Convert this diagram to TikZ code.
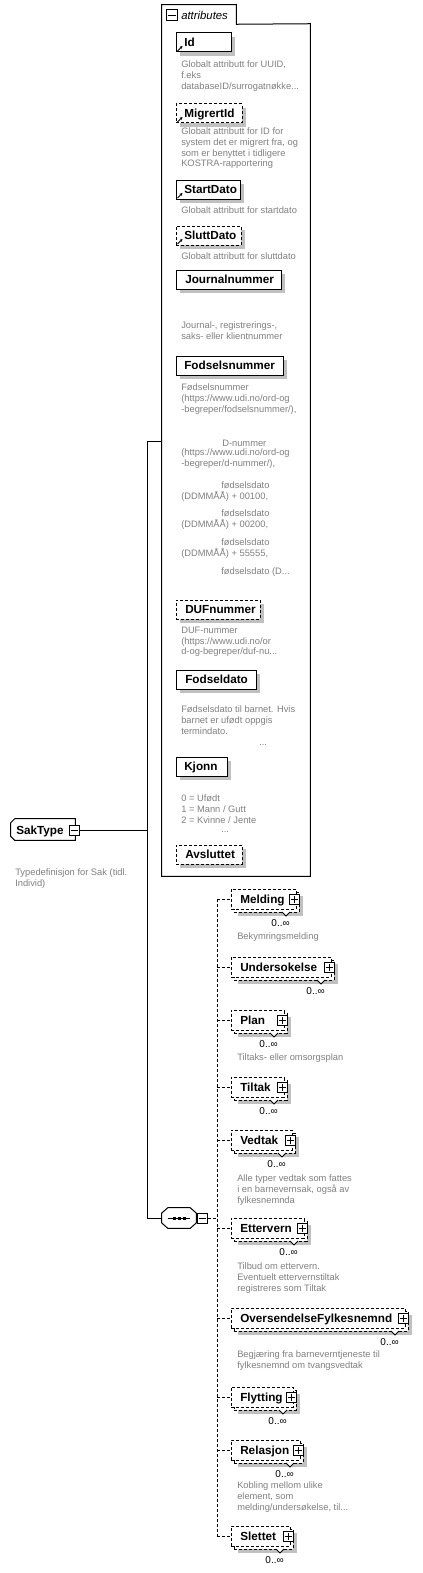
\documentclass[tikz,border=0pt]{standalone}
\usepackage{fontspec}
\setmainfont{Liberation Sans}
\usetikzlibrary{fit,shadows,arrows.meta}
\definecolor{shc}{RGB}{192,192,192}
\definecolor{dsc}{RGB}{128,128,128}
\tikzset{
  lw/.style={line width=0.75pt},
  shd/.style={drop shadow={shadow xshift=3pt,shadow yshift=-3pt,opacity=1,fill=shc}},
  abox/.style={inner sep=0pt, draw, lw, fill=white},
  ghost/.style={inner sep=0pt},
  dsh/.style={dash pattern=on 2.25pt off 1.5pt},
  lbl/.style={font=\fontsize{8.8}{10}\selectfont\bfseries, inner sep=0pt, anchor=west, text height=6.3pt, text depth=0pt},
  desc/.style={font=\fontsize{7}{8}\selectfont, text=dsc, inner sep=0pt, anchor=north west, align=left, yshift=5.3pt, execute at begin node={\rule{0pt}{5.3pt}}},
  occ/.style={font=\fontsize{7.5}{8}\selectfont, inner sep=0pt, anchor=base east},
  pbox/.style={inner sep=0pt, draw, lw, fill=white},
  refarrow/.style={lw, -{Stealth[length=2.2pt,width=2.2pt]}},
}
\newcommand{\kid}[4]{%
  \node[abox, dsh, shd, fit={(234,#2+3) (#3+3,#2+23)}] (#1b) {};
  \draw[lw, fill=white] (#3-14,#2+23) -- (#3-10,#2+27) -- (#3-6,#2+23);
  \node[abox, dsh, fit={(231,#2) (#3,#2+20)}] (#1) {};
  \node[pbox, fit={(#3-7,#2+5) (#3+3,#2+15)}] (#1p) {};
  \draw[lw] ([xshift=1.5pt]#1p.west) -- ([xshift=-1.5pt]#1p.east);
  \draw[lw] ([yshift=1.5pt]#1p.south) -- ([yshift=-1.5pt]#1p.north);
  \node[lbl] (#1l) at (240,#2+10) {#4};
  \node[occ] (#1o) at (#3-6,#2+37) {0..∞};
  \draw[lw,dsh] (#1.west -| cspine) -- (#1.west);
}
\begin{document}
\begin{tikzpicture}[x=0.75pt,y=-0.75pt]
\fill[white] (0,0) rectangle (422,1573);
\useasboundingbox (0,0) rectangle (422,1573);

% ---------- SakType ----------
\node[ghost, fit={(11,819) (75,840)}] (sak) {};
\fill[shc, shift={(4,4)}] ([xshift=3pt]sak.north west) -- (sak.north east) -- (sak.south east) -- ([xshift=3pt]sak.south west) -- ([yshift=3pt]sak.south west) -- ([yshift=-3pt]sak.north west) -- cycle;
\draw[lw, fill=white] ([xshift=3pt]sak.north west) -- (sak.north east) -- (sak.south east) -- ([xshift=3pt]sak.south west) -- ([yshift=3pt]sak.south west) -- ([yshift=-3pt]sak.north west) -- cycle;
\node[lbl] (sakl) at (16,830) {SakType};
\node[pbox, fit={(69,825) (79,835)}] (sakminus) {};
\draw[lw] ([xshift=1.5pt]sakminus.west) -- ([xshift=-1.5pt]sakminus.east);
\node[desc] (sakd) at (15,876) {Typedefinisjon for Sak (tidl.\\Individ)};

% ---------- attributes frame ----------
\node[ghost, fit={(162,24) (310,876)}] (attrframe) {};
\node[ghost, fit={(162,5) (236,24)}] (attrtab) {};
\draw[lw] (attrframe.south west) -- (attrtab.north west) -- (attrtab.north east) -- (attrtab.south east) -- (attrframe.north east) -- (attrframe.south east) -- cycle;
\node[pbox, fit={(166,10) (177,21)}] (attrminus) {};
\draw[lw] ([xshift=1.5pt]attrminus.west) -- ([xshift=-1.5pt]attrminus.east);
\node[font=\fontsize{8.5}{10}\selectfont\itshape, anchor=west, inner sep=0pt] (attrtitle) at (181,15.5) {attributes};

% Id
\node[abox, shd, fit={(176,33) (231,52)}] (id) {};
\node[lbl] (idl) at (184,42.5) {Id};
\draw[refarrow] ([shift={(2,-1.5)}]id.south west) -- ++(5,-5);
\node[desc] (idd) at (181,68) {Globalt attributt for UUID,\\f.eks\\databaseID/surrogatnøkke...};
% MigrertId
\node[abox, dsh, shd, fit={(176,104) (242,123)}] (migrertid) {};
\node[lbl] (migrertidl) at (184,113.5) {MigrertId};
\draw[refarrow] ([shift={(2,-1.5)}]migrertid.south west) -- ++(5,-5);
\node[desc] (migrertidd) at (181,135) {Globalt attributt for ID for\\system det er migrert fra, og\\som er benyttet i tidligere\\KOSTRA-rapportering};
% StartDato
\node[abox, shd, fit={(176,180) (240,199)}] (startdato) {};
\node[lbl] (startdatol) at (184,189.5) {StartDato};
\draw[refarrow] ([shift={(2,-1.5)}]startdato.south west) -- ++(5,-5);
\node[desc] (startdatod) at (181,213) {Globalt attributt for startdato};
% SluttDato
\node[abox, dsh, shd, fit={(176,226) (241,245)}] (sluttdato) {};
\node[lbl] (sluttdatol) at (184,235.5) {SluttDato};
\draw[refarrow] ([shift={(2,-1.5)}]sluttdato.south west) -- ++(5,-5);
\node[desc] (sluttdatod) at (181,259) {Globalt attributt for sluttdato};
% Journalnummer
\node[abox, shd, fit={(176,270) (281,289)}] (journal) {};
\node[lbl] (journall) at (185,279.5) {Journalnummer};
\node[desc] (journald) at (181,329) {Journal-, registrerings-,\\saks- eller klientnummer};
% Fodselsnummer
\node[abox, shd, fit={(176,356) (283,375)}] (fnr) {};
\node[lbl] (fnrl) at (184,365.5) {Fodselsnummer};
\node[desc] (fnrd1) at (181,391) {Fødselsnummer\\(https://www.udi.no/ord-og\\-begreper/fodselsnummer/),};
\node[desc] (fnrd2) at (222,446) {D-nummer};
\node[desc] (fnrd3) at (181,456) {(https://www.udi.no/ord-og\\-begreper/d-nummer/),};
\node[desc] (fnrd4) at (221,488) {fødselsdato};
\node[desc] (fnrd5) at (181,498) {(DDMMÅÅ) + 00100,};
\node[desc] (fnrd6) at (221,516) {fødselsdato};
\node[desc] (fnrd7) at (181,526) {(DDMMÅÅ) + 00200,};
\node[desc] (fnrd8) at (221,545) {fødselsdato};
\node[desc] (fnrd9) at (181,555) {(DDMMÅÅ) + 55555,};
\node[desc] (fnrd10) at (221,574) {fødselsdato (D...};
% DUFnummer
\node[abox, dsh, shd, fit={(176,600) (260,619)}] (duf) {};
\node[lbl] (dufl) at (185,609.5) {DUFnummer};
\node[desc] (dufd) at (181,634) {DUF-nummer\\(https://www.udi.no/or\\d-og-begreper/duf-nu...};
% Fodseldato
\node[abox, shd, fit={(176,670) (256,689)}] (fdato) {};
\node[lbl] (fdatol) at (185,679.5) {Fodseldato};
\node[desc] (fdatod) at (181,713) {Fødselsdato til barnet. Hvis\\barnet er ufødt oppgis\\termindato.};
\node[desc] (fdatoe) at (259,745) {...};
% Kjonn
\node[abox, shd, fit={(176,757) (227,776)}] (kjonn) {};
\node[lbl] (kjonnl) at (184,766.5) {Kjonn};
\node[desc] (kjonnd) at (181,802) {0 = Ufødt\\1 = Mann / Gutt\\2 = Kvinne / Jente};
\node[desc] (kjonne) at (221,832) {...};
% Avsluttet
\node[abox, dsh, shd, fit={(176,845) (242,864)}] (avsl) {};
\node[lbl] (avsll) at (185,854.5) {Avsluttet};

% ---------- sequence ----------
\node[ghost, fit={(162,1208) (196,1228)}] (seq) {};
\fill[shc, shift={(4,4)}] ([xshift=4.5pt]seq.north west) -- ([xshift=-4.5pt]seq.north east) -- ([yshift=-4pt]seq.north east) -- ([yshift=4pt]seq.south east) -- ([xshift=-4.5pt]seq.south east) -- ([xshift=4.5pt]seq.south west) -- ([yshift=4pt]seq.south west) -- ([yshift=-4pt]seq.north west) -- cycle;
\draw[lw, fill=white] ([xshift=4.5pt]seq.north west) -- ([xshift=-4.5pt]seq.north east) -- ([yshift=-4pt]seq.north east) -- ([yshift=4pt]seq.south east) -- ([xshift=-4.5pt]seq.south east) -- ([xshift=4.5pt]seq.south west) -- ([yshift=4pt]seq.south west) -- ([yshift=-4pt]seq.north west) -- cycle;
\draw[lw] ([xshift=4.5pt]seq.west) -- ([xshift=-4.5pt]seq.east);
\fill (172.5,1216.5) rectangle (175.5,1219.5);
\fill (177.5,1216.5) rectangle (180.5,1219.5);
\fill (182.5,1216.5) rectangle (185.5,1219.5);
\node[pbox, fit={(197,1213) (207,1223)}] (seqminus) {};
\draw[lw] ([xshift=1.5pt]seqminus.west) -- ([xshift=-1.5pt]seqminus.east);

% ---------- main connectors ----------
\coordinate (spinetop) at (147,441);
\coordinate (spinebot) at (seq.west -| spinetop);
\draw[lw] (spinetop) -- (spinebot);
\draw[lw] (spinetop) -- (spinetop -| attrframe.west);
\draw[lw] (spinebot) -- (seq.west);
\draw[lw] (sakminus.east) -- (sakminus.east -| spinetop);
\coordinate (cspine) at (217,1000);
\draw[lw,dsh] (seqminus.east) -- (seqminus.east -| cspine);

% ---------- children ----------
\kid{melding}{889}{296}{Melding}
\kid{undersokelse}{957}{331}{Undersokelse}
\kid{plan}{1010}{284}{Plan}
\kid{tiltak}{1077}{284}{Tiltak}
\kid{vedtak}{1130}{292}{Vedtak}
\kid{ettervern}{1218}{304}{Ettervern}
\kid{oversendelse}{1308}{405}{OversendelseFylkesnemnd}
\kid{flytting}{1387}{293}{Flytting}
\kid{relasjon}{1440}{300}{Relasjon}
\kid{slettet}{1526}{290}{Slettet}
\draw[lw,dsh] (melding.west -| cspine) -- (slettet.west -| cspine);

\node[desc] (meldingd) at (237,939) {Bekymringsmelding};
\node[desc] (pland) at (237,1060) {Tiltaks- eller omsorgsplan};
\node[desc, font=\fontsize{7}{8.25}\selectfont] (vedtakd) at (237,1182) {Alle typer vedtak som fattes\\i en barnevernsak, også av\\fylkesnemnda};
\node[desc, font=\fontsize{7}{8.25}\selectfont] (ettervernd) at (237,1270) {Tilbud om ettervern.\\Eventuelt ettervernstiltak\\registreres som Tiltak};
\node[desc, font=\fontsize{7}{8.25}\selectfont] (oversendelsed) at (237,1358) {Begjæring fra barneverntjeneste til\\fylkesnemnd om tvangsvedtak};
\node[desc, font=\fontsize{7}{8.25}\selectfont] (relasjond) at (237,1489) {Kobling mellom ulike\\element, som\\melding/undersøkelse, til...};
\end{tikzpicture}
\end{document}
